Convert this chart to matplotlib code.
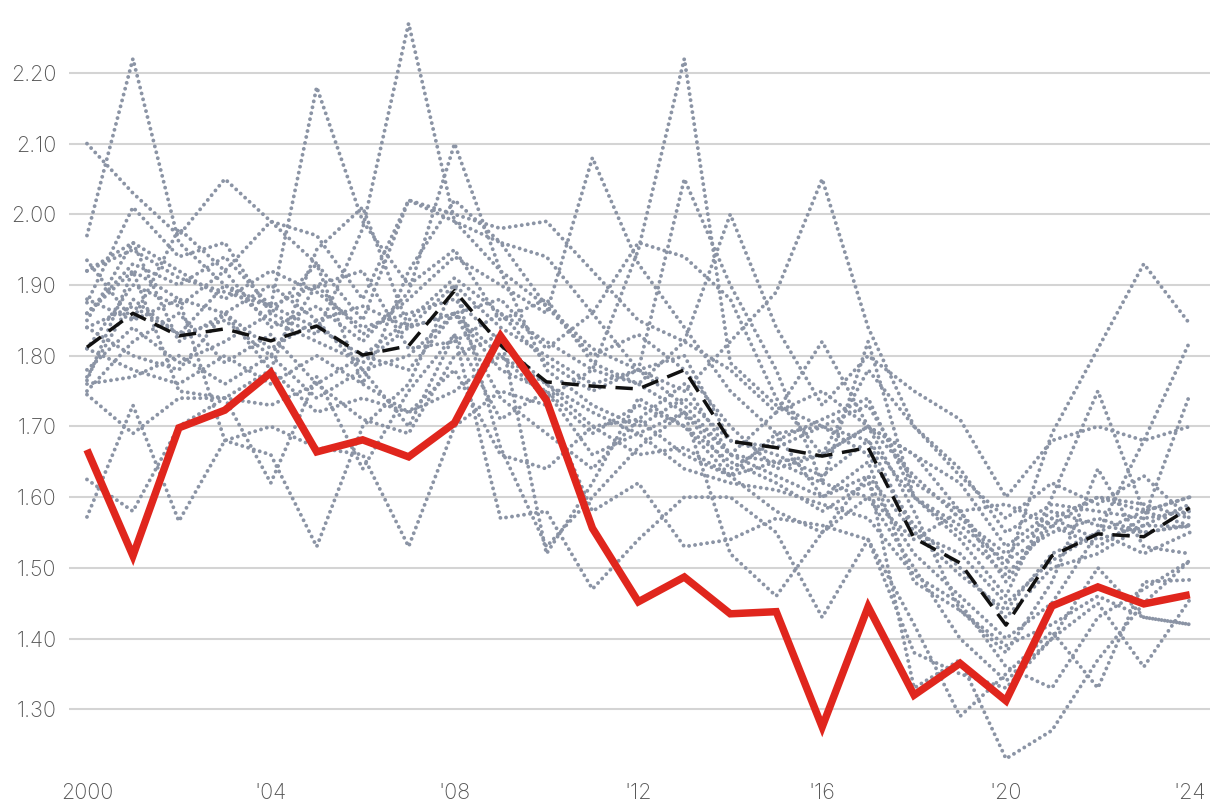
import matplotlib
matplotlib.use("Agg")
import matplotlib.pyplot as plt

years = list(range(2000, 2025))
tick_years = [2000, 2004, 2008, 2012, 2016, 2020, 2024]
tick_labels = ["2000", "'04", "'08", "'12", "'16", "'20", "'24"]
y_ticks = [1.30, 1.40, 1.50, 1.60, 1.70, 1.80, 1.90, 2.00, 2.10, 2.20]

highlight = [1.667, 1.517, 1.698, 1.723, 1.776, 1.664, 1.681, 1.657, 1.705, 1.828,
             1.737, 1.556, 1.452, 1.487, 1.435, 1.438, 1.275, 1.445, 1.320, 1.365,
             1.312, 1.446, 1.473, 1.449, 1.462]

average = [1.812, 1.860, 1.828, 1.838, 1.821, 1.842, 1.801, 1.814, 1.892, 1.815,
           1.763, 1.757, 1.753, 1.780, 1.679, 1.670, 1.658, 1.670, 1.542, 1.507,
           1.419, 1.517, 1.548, 1.544, 1.585]

g01 = [1.97, 2.22, 1.96, 1.90, 1.87, 1.84, 1.80, 1.85, 1.91, 1.86, 1.79, 1.75, 1.78, 1.73, 1.66, 1.63, 1.60, 1.63, 1.55, 1.49, 1.44, 1.52, 1.55, 1.58, 1.56]
g02 = [2.10, 2.03, 1.97, 2.05, 1.99, 1.97, 1.88, 2.02, 2.00, 1.98, 1.99, 1.92, 1.85, 1.82, 1.78, 1.72, 1.75, 1.70, 1.66, 1.62, 1.53, 1.58, 1.56, 1.55, 1.56]
g03 = [1.86, 1.93, 1.90, 1.94, 1.87, 2.18, 1.99, 1.90, 1.95, 1.85, 1.88, 1.79, 1.76, 1.72, 1.64, 1.68, 1.71, 1.74, 1.60, 1.55, 1.49, 1.56, 1.60, 1.58, 1.60]
g04 = [1.78, 1.84, 1.79, 1.82, 1.86, 1.83, 1.98, 2.27, 1.99, 1.92, 1.87, 1.80, 1.83, 1.78, 1.70, 1.64, 1.66, 1.70, 1.63, 1.57, 1.52, 1.57, 1.54, 1.56, 1.59]
g05 = [1.81, 1.90, 1.87, 1.92, 1.84, 1.87, 1.82, 1.89, 2.10, 1.92, 1.78, 1.73, 1.70, 1.74, 1.68, 1.66, 1.63, 1.68, 1.55, 1.52, 1.45, 1.51, 1.55, 1.52, 1.55]
g06 = [1.84, 1.87, 1.83, 1.85, 1.80, 1.90, 1.83, 1.88, 1.94, 1.90, 1.86, 2.08, 1.93, 1.84, 1.75, 1.69, 1.70, 1.73, 1.62, 1.58, 1.48, 1.57, 1.60, 1.59, 1.57]
g07 = [1.75, 1.82, 1.86, 1.79, 1.83, 1.76, 1.80, 1.78, 1.86, 1.80, 1.74, 1.78, 1.95, 2.22, 1.79, 1.73, 1.70, 1.68, 1.60, 1.56, 1.51, 1.55, 1.57, 1.55, 1.56]
g08 = [1.88, 1.85, 1.88, 1.86, 1.90, 1.85, 1.87, 1.84, 1.90, 1.84, 1.80, 1.76, 1.78, 1.75, 1.82, 1.89, 2.05, 1.84, 1.70, 1.64, 1.55, 1.59, 1.58, 1.57, 1.58]
g09 = [1.92, 1.96, 1.92, 1.88, 1.92, 1.89, 1.84, 1.86, 1.88, 1.82, 1.76, 1.72, 1.69, 1.72, 1.66, 1.65, 1.62, 1.60, 1.54, 1.58, 1.50, 1.69, 1.81, 1.93, 1.845]
g10 = [1.76, 1.77, 1.80, 1.76, 1.80, 1.74, 1.78, 1.80, 1.86, 1.78, 1.75, 1.69, 1.73, 1.70, 1.65, 1.62, 1.58, 1.62, 1.52, 1.46, 1.40, 1.45, 1.55, 1.68, 1.82]
g11 = [1.625, 1.58, 1.70, 1.74, 1.73, 1.76, 1.71, 1.69, 1.80, 1.83, 1.52, 1.62, 1.74, 1.70, 1.63, 1.69, 1.60, 1.65, 1.48, 1.44, 1.39, 1.42, 1.46, 1.43, 1.42]
g12 = [1.572, 1.73, 1.566, 1.68, 1.70, 1.67, 1.66, 1.53, 1.70, 1.75, 1.73, 1.58, 1.62, 1.53, 1.54, 1.57, 1.56, 1.54, 1.38, 1.35, 1.33, 1.40, 1.45, 1.36, 1.455]
g13 = [1.745, 1.69, 1.74, 1.74, 1.62, 1.77, 1.64, 1.75, 1.83, 1.57, 1.58, 1.47, 1.54, 1.60, 1.60, 1.55, 1.43, 1.54, 1.42, 1.29, 1.35, 1.41, 1.33, 1.48, 1.483]
g14 = [1.765, 1.92, 1.88, 1.68, 1.66, 1.53, 1.70, 1.76, 1.90, 1.67, 1.53, 1.60, 1.67, 1.72, 1.52, 1.46, 1.55, 1.63, 1.33, 1.37, 1.23, 1.27, 1.37, 1.45, 1.51]
g15 = [1.935, 1.85, 1.98, 1.92, 1.99, 1.93, 1.76, 1.92, 2.02, 1.96, 1.94, 1.86, 1.96, 1.94, 1.88, 1.74, 1.66, 1.78, 1.70, 1.63, 1.57, 1.62, 1.59, 1.63, 1.57]
g16 = [1.85, 1.96, 1.82, 1.86, 1.78, 1.95, 2.01, 1.84, 1.86, 1.88, 1.81, 1.86, 1.78, 2.05, 1.90, 1.78, 1.62, 1.82, 1.60, 1.54, 1.46, 1.60, 1.75, 1.58, 1.60]
g17 = [1.875, 2.01, 1.94, 1.96, 1.86, 1.93, 1.85, 2.02, 1.99, 1.96, 1.87, 1.81, 1.78, 1.80, 1.68, 1.67, 1.70, 1.66, 1.56, 1.50, 1.43, 1.50, 1.52, 1.56, 1.558]
g18 = [1.77, 1.88, 1.83, 1.90, 1.85, 1.82, 1.79, 1.84, 1.86, 1.74, 1.69, 1.64, 1.71, 1.76, 1.66, 1.72, 1.82, 1.70, 1.58, 1.44, 1.38, 1.48, 1.64, 1.53, 1.52]
g19 = [1.84, 1.80, 1.78, 1.86, 1.81, 1.85, 1.78, 1.70, 1.83, 1.71, 1.75, 1.66, 1.69, 1.64, 1.62, 1.61, 1.59, 1.57, 1.49, 1.45, 1.36, 1.33, 1.43, 1.47, 1.51]
g20 = [1.86, 1.92, 1.75, 1.74, 1.78, 1.72, 1.74, 1.72, 1.78, 1.66, 1.64, 1.70, 1.66, 1.67, 1.63, 1.58, 1.55, 1.60, 1.50, 1.40, 1.34, 1.40, 1.50, 1.43, 1.42]
g21 = [1.92, 1.95, 1.91, 1.89, 1.87, 1.90, 1.92, 1.81, 1.82, 1.86, 1.82, 1.78, 1.76, 1.82, 2.00, 1.84, 1.73, 1.80, 1.75, 1.71, 1.60, 1.68, 1.70, 1.68, 1.70]
g22 = [1.81, 1.78, 1.76, 1.80, 1.76, 1.80, 1.76, 1.72, 1.75, 1.80, 1.76, 1.70, 1.71, 1.66, 1.63, 1.65, 1.66, 1.70, 1.66, 1.58, 1.59, 1.56, 1.53, 1.57, 1.745]

others = [g01, g02, g03, g04, g05, g06, g07, g08, g09, g10, g11,
          g12, g13, g14, g15, g16, g17, g18, g19, g20, g21, g22]

plt.rcParams['font.family'] = ['Inter', 'DejaVu Sans']

fig = plt.figure(figsize=(12.2, 8.1), dpi=100)
ax = fig.add_axes([0.0566, 0.0432, 0.9352, 0.9445])

for s in others:
    ax.plot(years, s, color="#8b94a5", linewidth=2.8,
            linestyle=(0, (0.01, 1.55)), dash_capstyle="round",
            solid_capstyle="round", zorder=2)

ax.plot(years, average, color="#111111", linewidth=2.5,
        linestyle=(0, (5, 2.8)), zorder=3)
ax.plot(years, highlight, color="#e0261d", linewidth=5.4,
        solid_joinstyle="miter", solid_capstyle="butt", zorder=4)

ax.set_xlim(1999.61, 2024.44)
ax.set_ylim(1.207, 2.289)
ax.set_yticks(y_ticks)
ax.set_yticklabels([f"{v:.2f}" for v in y_ticks])
ax.set_xticks(tick_years)
ax.set_xticklabels(tick_labels)
ax.grid(axis="y", color="#d4d4d4", linewidth=1.5, zorder=0)
ax.set_axisbelow(True)
for sp in ax.spines.values():
    sp.set_visible(False)
ax.tick_params(axis="both", length=0, labelsize=15.5, labelcolor="#555555")
ax.tick_params(axis="y", pad=9)
ax.tick_params(axis="x", pad=6)
for lbl in ax.get_xticklabels() + ax.get_yticklabels():
    lbl.set_fontweight("light")

fig.savefig("out.png", dpi=100)
